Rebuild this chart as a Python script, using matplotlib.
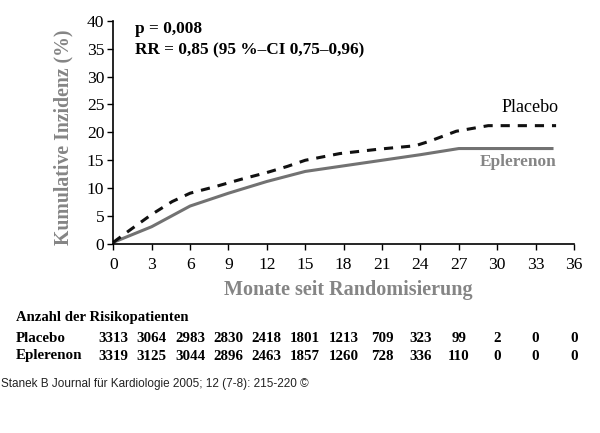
#---------------------------- REQUIRED LIBRARIES ------------------------------

import matplotlib
matplotlib.use("Agg")
import matplotlib.pyplot as plt
import matplotlib.transforms as mtransforms

#----------------------------------- DATA -------------------------------------

placebo_months = [0, 1.3, 3, 4.6, 6, 8, 10, 12, 13.6, 15, 17.7, 20.8, 23.6
                  , 24.7, 26.8, 29.3, 34.6]
placebo_values = [0.3, 2.5, 5.3, 7.6, 9.1, 10.3, 11.6, 12.8, 13.9, 15.0, 16.2
                  , 17.0, 17.6, 18.4, 20.2, 21.2, 21.2]

eplerenon_months = [0, 3, 6, 9, 12, 15, 24, 27, 34.4]
eplerenon_values = [0.3, 3.1, 6.8, 9.1, 11.2, 13.0, 16.0, 17.1, 17.1]

x_ticks = [0, 3, 6, 9, 12, 15, 18, 21, 24, 27, 30, 33, 36]
y_ticks = [0, 5, 10, 15, 20, 25, 30, 35, 40]

risk_placebo = [3313, 3064, 2983, 2830, 2418, 1801, 1213, 709, 323, 99, 2, 0, 0]
risk_eplerenon = [3319, 3125, 3044, 2896, 2463, 1857, 1260, 728, 336, 110, 0
                  , 0, 0]

#--------------------------------- MAIN CODE ----------------------------------

W, H = 600, 433
serif = "Liberation Serif"
grey_txt = "#858585"

fig = plt.figure(figsize=(W / 100, H / 100), dpi=100)
fig.set_facecolor("white")

ax = fig.add_axes([113.3 / W, 1 - 244 / H, (574 - 113.3) / W, (244 - 20.7) / H])

ax.plot(eplerenon_months, eplerenon_values, color="#727272", lw=2.2
        , solid_capstyle="butt", clip_on=False)
ax.plot(placebo_months, placebo_values, color="#111111", lw=2.2
        , linestyle=(0, (3.0, 2.6)), clip_on=False)

ax.set_xlim(0, 36)
ax.set_ylim(0, 40)
ax.set_xticks(x_ticks)
ax.set_yticks(y_ticks)

for side in ["top", "right"]:
    ax.spines[side].set_visible(False)
for side in ["left", "bottom"]:
    ax.spines[side].set_linewidth(1.2)

ax.tick_params(direction="out", length=4, width=1, labelsize=12.6, pad=2.5)
ax.tick_params(axis="x", pad=5.5)
for lbl in ax.get_xticklabels() + ax.get_yticklabels():
    lbl.set_fontfamily(serif)

#axis labels
fig.text(63 / W, 1 - 137 / H, "Kumulative Inzidenz (%)", rotation=90
         , ha="center", va="center", fontfamily=serif, fontweight="bold"
         , fontsize=14.2, color=grey_txt)
fig.text(348 / W, 1 - 290 / H, "Monate seit Randomisierung", ha="center"
         , va="center", fontfamily=serif, fontweight="bold", fontsize=14.5
         , color=grey_txt)

#statistics
fig.text(135 / W, 1 - 29 / H, "p = 0,008", ha="left", va="center"
         , fontfamily=serif, fontweight="bold", fontsize=12.4, color="black")
fig.text(135 / W, 1 - 50 / H, "RR = 0,85 (95 %\u2013CI 0,75\u20130,96)"
         , ha="left", va="center", fontfamily=serif, fontweight="bold"
         , fontsize=12.4, color="black")

#curve labels
fig.text(559 / W, 1 - 107 / H, "Placebo", ha="right", va="center"
         , fontfamily=serif, fontsize=13, color="black")
fig.text(556 / W, 1 - 162 / H, "Eplerenon", ha="right", va="center"
         , fontfamily=serif, fontweight="bold", fontsize=12.4, color=grey_txt)

#number at risk table
fig.text(16 / W, 1 - 318 / H, "Anzahl der Risikopatienten", ha="left"
         , va="center", fontfamily=serif, fontweight="bold", fontsize=10.6)
fig.text(16 / W, 1 - 338 / H, "Placebo", ha="left", va="center"
         , fontfamily=serif, fontweight="bold", fontsize=10.8)
fig.text(16 / W, 1 - 356 / H, "Eplerenon", ha="left", va="center"
         , fontfamily=serif, fontweight="bold", fontsize=10.8)

trans = mtransforms.blended_transform_factory(ax.transData, fig.transFigure)
for m, p, e in zip(x_ticks, risk_placebo, risk_eplerenon):
    ax.text(m, 1 - 338 / H, str(p), transform=trans, ha="center", va="center"
            , fontfamily=serif, fontweight="bold", fontsize=10.8, clip_on=False)
    ax.text(m, 1 - 356 / H, str(e), transform=trans, ha="center", va="center"
            , fontfamily=serif, fontweight="bold", fontsize=10.8, clip_on=False)

#source line
fig.text(1 / W, 1 - 384 / H
         , "Stanek B Journal f\u00fcr Kardiologie 2005; 12 (7-8): 215-220 \u00a9"
         , ha="left", va="center", fontfamily="Liberation Sans", fontsize=8.5
         , color="#222222")

fig.savefig("out.png", dpi=100, facecolor=fig.get_facecolor())
